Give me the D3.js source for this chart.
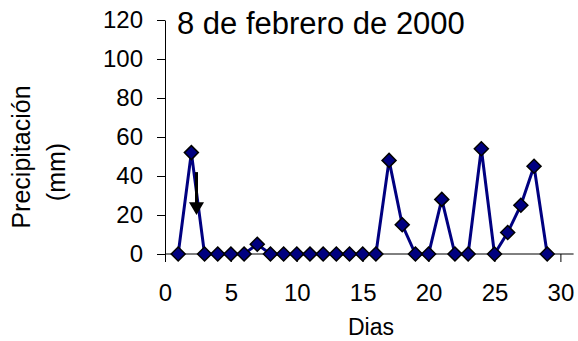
<!DOCTYPE html>
<html>
<head>
<meta charset="utf-8">
<script src="https://cdn.jsdelivr.net/npm/d3@7"></script>
<style>
  body { margin: 0; background: #fff; }
  svg { display: block; font-family: Arial, "Liberation Sans", sans-serif; }
</style>
</head>
<body>
<svg width="578" height="341"></svg>
<script>
// datos: dia y precipitacion (mm)
const dias = [1, 2, 3, 4, 5, 6, 7, 8, 9, 10, 11, 12, 13, 14, 15, 16, 17, 18, 19, 20, 21, 22, 23, 24, 25, 26, 27, 28, 29];
const precip = [0, 52, 0, 0, 0, 0, 5, 0, 0, 0, 0, 0, 0, 0, 0, 0, 48, 15, 0, 0, 28, 0, 0, 54, 0, 11, 25, 45, 0];
const xTicks = [0, 5, 10, 15, 20, 25, 30];
const yTicks = [0, 20, 40, 60, 80, 100, 120];
const titulo = "8 de febrero de 2000";

const svg = d3.select("svg");

const x = d3.scaleLinear().domain([0, 30]).range([165, 560.4]);
const y = d3.scaleLinear().domain([0, 120]).range([254, 20]);

// eje y
const gy = svg.append("g").attr("transform", `translate(${x(0)},0)`)
  .call(d3.axisLeft(y).tickValues(yTicks).tickSize(8).tickPadding(14).tickSizeOuter(0));
gy.select(".domain").attr("stroke", "#000");
gy.selectAll("text").attr("font-size", 24).attr("fill", "#000").attr("font-family", "Arial, 'Liberation Sans', sans-serif");

// eje x (cruza en y = 0)
const gx = svg.append("g").attr("transform", `translate(0,${y(0)})`)
  .call(d3.axisBottom(x).tickValues(xTicks).tickSize(8).tickPadding(22).tickSizeOuter(0));
gx.select(".domain").attr("d", `M${x(0)},0H${x(31)}`).attr("stroke", "#000");
gx.selectAll("text").attr("font-size", 24).attr("fill", "#000").attr("font-family", "Arial, 'Liberation Sans', sans-serif");

// linea
const line = d3.line().x((d, i) => x(dias[i])).y(d => y(d));
svg.append("path")
  .datum(precip)
  .attr("d", line)
  .attr("fill", "none")
  .attr("stroke", "#000080")
  .attr("stroke-width", 3);

// marcadores (rombos)
svg.selectAll(".pt")
  .data(precip)
  .enter()
  .append("path")
  .attr("class", "pt")
  .attr("d", "M0,-7L7,0L0,7L-7,0Z")
  .attr("transform", (d, i) => `translate(${x(dias[i])},${y(d)})`)
  .attr("fill", "#000080")
  .attr("stroke", "#000")
  .attr("stroke-width", 1.5);

// flecha
const ax = x(2.39);
svg.append("line")
  .attr("x1", ax).attr("x2", ax)
  .attr("y1", y(42)).attr("y2", y(26))
  .attr("stroke", "#000").attr("stroke-width", 3);
svg.append("path")
  .attr("d", `M${ax - 7.5},${y(26.5)}L${ax + 7.5},${y(26.5)}L${ax},${y(20)}Z`)
  .attr("fill", "#000");

// titulo
svg.append("text")
  .attr("x", 177).attr("y", 34)
  .attr("font-size", 31)
  .text(titulo);

// etiquetas de ejes
svg.append("text")
  .attr("x", 371).attr("y", 335)
  .attr("text-anchor", "middle")
  .attr("font-size", 23)
  .text("Dias");

svg.append("text")
  .attr("transform", "translate(30,157) rotate(-90)")
  .attr("text-anchor", "middle")
  .attr("font-size", 25)
  .text("Precipitación");
svg.append("text")
  .attr("transform", "translate(65,172) rotate(-90)")
  .attr("text-anchor", "middle")
  .attr("font-size", 25)
  .text("(mm)");
</script>
</body>
</html>
